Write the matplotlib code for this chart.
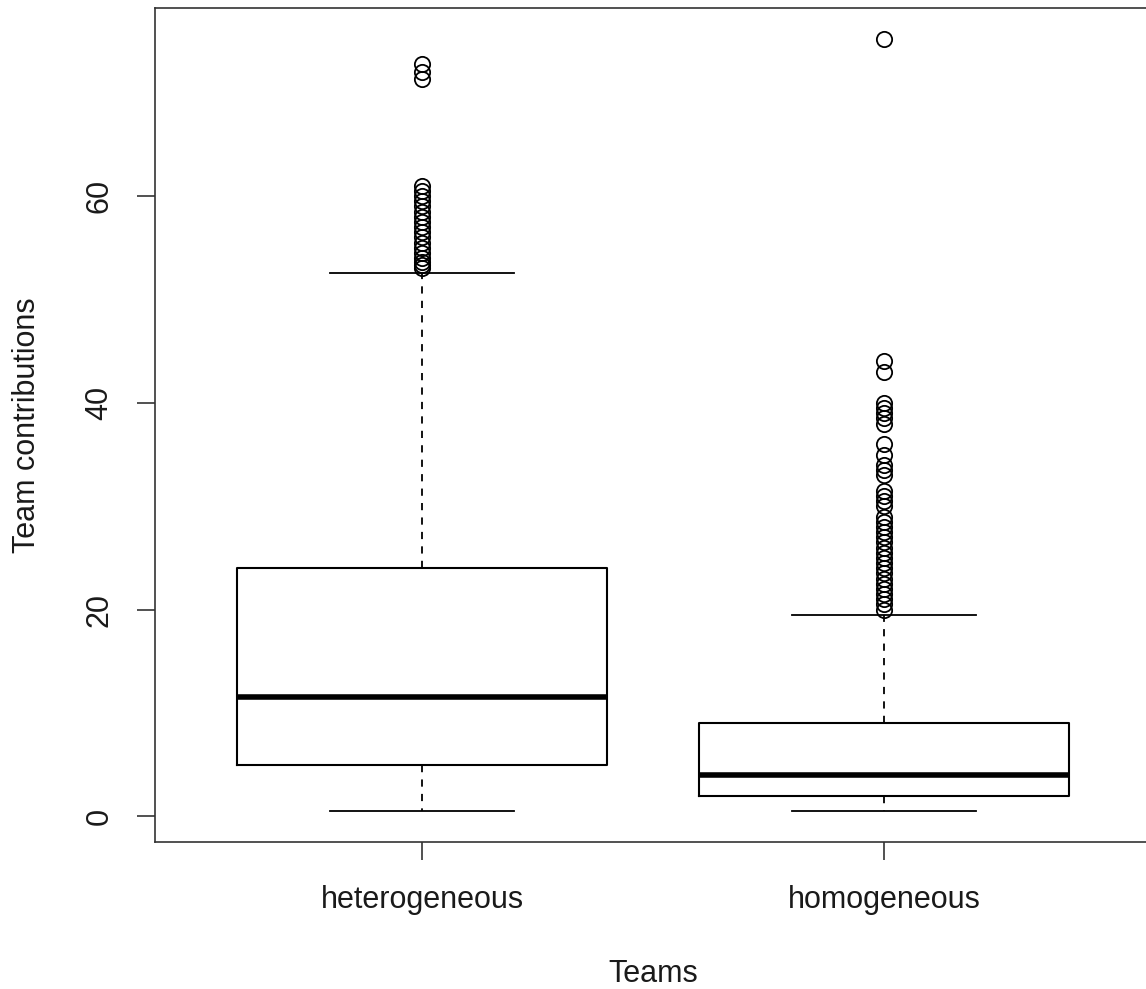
import matplotlib
matplotlib.use('Agg')
import matplotlib.pyplot as plt

# group labels and five-number summaries
groups = ['heterogeneous', 'homogeneous']
whislo = [0.5, 0.5]
q1 = [5.0, 2.0]
med = [11.5, 4.0]
q3 = [24.0, 9.0]
whishi = [52.6, 19.5]

het_outliers = [53.0, 53.3, 53.6, 54.0, 54.5, 55.0, 55.5, 56.0, 56.5, 57.0,
                57.5, 58.0, 58.5, 59.0, 59.5, 60.0, 60.5, 61.0,
                71.3, 72.0, 72.8]
hom_outliers = [20.0, 20.5, 21.0, 21.5, 22.0, 22.5, 23.0, 23.5, 24.0, 24.5,
                25.0, 25.5, 26.0, 26.5, 27.0, 27.5, 28.0, 28.5, 29.0, 30.0,
                30.5, 31.0, 31.5, 33.0, 33.5, 34.0, 35.0, 36.0, 38.0, 38.5,
                39.0, 39.5, 40.0, 43.0, 44.0, 75.2]
outliers = [het_outliers, hom_outliers]

plt.rcParams['font.family'] = ['Liberation Sans', 'DejaVu Sans']

fig = plt.figure(figsize=(11.46, 9.89), dpi=100)
ax = fig.add_axes([155 / 1146, 1 - 842 / 989, 996 / 1146, 834 / 989])

stats = []
for i, name in enumerate(groups):
    stats.append(dict(label=name, whislo=whislo[i], q1=q1[i], med=med[i],
                      q3=q3[i], whishi=whishi[i], fliers=outliers[i]))

ax.bxp(stats, positions=[1, 2], widths=0.8, showcaps=True, showfliers=True,
       boxprops=dict(color='black', linewidth=1.5),
       medianprops=dict(color='black', linewidth=4),
       whiskerprops=dict(color='black', linewidth=1.3, linestyle=(0, (4, 4))),
       capprops=dict(color='black', linewidth=1.3),
       capwidths=0.4,
       flierprops=dict(marker='o', markerfacecolor='none', markeredgecolor='black',
                       markersize=11, markeredgewidth=1.3, linestyle='none'))

ax.set_xlim(0.422, 2.578)
ax.set_ylim(-2.49, 78.2)
ax.set_yticks([0, 20, 40, 60])
ax.set_yticklabels(['0', '20', '40', '60'], rotation=90, va='center')
ax.set_xticks([1, 2])
ax.set_xticklabels(groups)

for s in ax.spines.values():
    s.set_color('#333333')
    s.set_linewidth(1.2)

ax.tick_params(axis='both', length=13, width=1.2, color='#333333',
               labelsize=22, labelcolor='#1a1a1a')
ax.tick_params(axis='y', pad=16)
ax.tick_params(axis='x', pad=18)

ax.set_xlabel('Teams', fontsize=22, labelpad=32, color='#1a1a1a')
ax.set_ylabel('Team contributions', fontsize=22, labelpad=31, color='#1a1a1a')

fig.savefig('out.png', dpi=100)
